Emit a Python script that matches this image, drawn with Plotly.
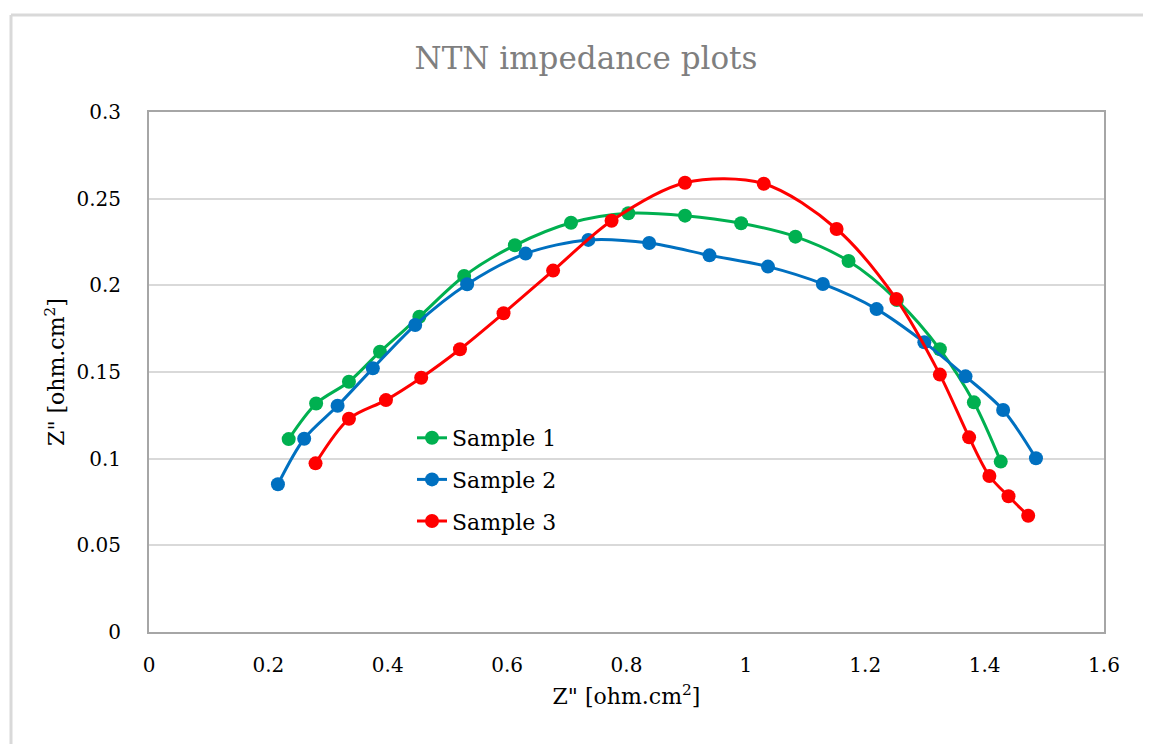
import plotly.graph_objects as go

# Data
s1_x = [0.234, 0.280, 0.335, 0.387, 0.453, 0.528, 0.613, 0.707, 0.803, 0.898, 0.992, 1.083, 1.172, 1.253, 1.325, 1.382, 1.427]
s1_y = [0.1113, 0.1318, 0.1444, 0.1617, 0.1819, 0.2054, 0.2231, 0.2361, 0.2416, 0.2402, 0.2358, 0.2281, 0.2140, 0.1915, 0.1631, 0.1325, 0.0983]

s2_x = [0.216, 0.260, 0.316, 0.375, 0.446, 0.533, 0.631, 0.736, 0.838, 0.939, 1.037, 1.129, 1.219, 1.299, 1.368, 1.431, 1.486]
s2_y = [0.0852, 0.1115, 0.1305, 0.1521, 0.1771, 0.2006, 0.2183, 0.2262, 0.2244, 0.2173, 0.2108, 0.2008, 0.1863, 0.1671, 0.1475, 0.1281, 0.1002]

s3_x = [0.279, 0.335, 0.397, 0.456, 0.521, 0.594, 0.677, 0.775, 0.898, 1.030, 1.152, 1.252, 1.325, 1.374, 1.408, 1.440, 1.473]
s3_y = [0.0973, 0.1230, 0.1338, 0.1467, 0.1631, 0.1839, 0.2085, 0.2373, 0.2592, 0.2586, 0.2325, 0.1921, 0.1485, 0.1123, 0.0900, 0.0783, 0.0671]

series_names = ["Sample 1", "Sample 2", "Sample 3"]
series_colors = ["#00B050", "#0070C0", "#FF0000"]

x_ticks = [0, 0.2, 0.4, 0.6, 0.8, 1, 1.2, 1.4, 1.6]
y_ticks = [0, 0.05, 0.1, 0.15, 0.2, 0.25, 0.3]

FONT = "DejaVu Serif"

fig = go.Figure()
for name, xs, ys, col in zip(series_names, [s1_x, s2_x, s3_x], [s1_y, s2_y, s3_y], series_colors):
    fig.add_trace(go.Scatter(
        x=xs, y=ys, name=name, mode="lines+markers",
        line=dict(color=col, width=3, shape="spline", smoothing=0.9),
        marker=dict(color=col, size=14),
        legendgroup=name,
    ))

# The page places the figure 8px in from the top-left corner.
OFF = 8
W, H = 1151 - OFF, 744 - OFF
# plot area in page pixels: left 149, right 1104, top 112, bottom 632
L, R, T, B = 149 - OFF, 1104 - OFF, 112 - OFF, 632 - OFF
pw, ph = R - L, B - T

def px_x(p):
    return (p - OFF - L) / pw

def px_y(p):
    return (B - (p - OFF)) / ph

fig.update_layout(
    width=W, height=H, autosize=False,
    margin=dict(l=L, r=W - R, t=T, b=H - B),
    paper_bgcolor="white", plot_bgcolor="white",
    font=dict(family=FONT, size=20, color="#000000"),
    title=dict(text="NTN impedance plots", x=(586 - OFF) / W, xanchor="center",
               y=1 - (58 - OFF) / H, yanchor="middle",
               font=dict(family=FONT, size=31, color="#7F7F7F")),
    showlegend=True,
    legend=dict(x=px_x(412), y=px_y(417), xanchor="left", yanchor="top",
                bgcolor="rgba(0,0,0,0)", font=dict(family=FONT, size=22, color="#000000"),
                tracegroupgap=10, itemwidth=30),
    xaxis=dict(range=[0, 1.6], tickmode="array", tickvals=x_ticks,
               showgrid=False, zeroline=False,
               showline=True, linecolor="#A6A6A6", linewidth=2, mirror=True,
               ticks="", ticklabelstandoff=14,
               tickfont=dict(family=FONT, size=20, color="#000000"),
               title=dict(text="Z\" [ohm.cm<sup>2</sup>]", standoff=13,
                          font=dict(family=FONT, size=22, color="#000000"))),
    yaxis=dict(range=[0, 0.3], tickmode="array", tickvals=y_ticks,
               showgrid=True, gridcolor="#D9D9D9", gridwidth=2, zeroline=False,
               showline=True, linecolor="#A6A6A6", linewidth=2, mirror=True,
               ticks="", ticklabelstandoff=22,
               tickfont=dict(family=FONT, size=20, color="#000000"),
               title=dict(text="Z\" [ohm.cm<sup>2</sup>]", standoff=6,
                          font=dict(family=FONT, size=22, color="#000000"))),
    shapes=[
        # outer chart-area frame (top and left edges visible)
        dict(type="line", xref="paper", yref="paper",
             x0=px_x(11), x1=px_x(1160), y0=px_y(15), y1=px_y(15),
             line=dict(color="#D9D9D9", width=3), layer="below"),
        dict(type="line", xref="paper", yref="paper",
             x0=px_x(11), x1=px_x(11), y0=px_y(15), y1=px_y(760),
             line=dict(color="#D9D9D9", width=3), layer="below"),
    ],
)

fig.write_html("out.html")
